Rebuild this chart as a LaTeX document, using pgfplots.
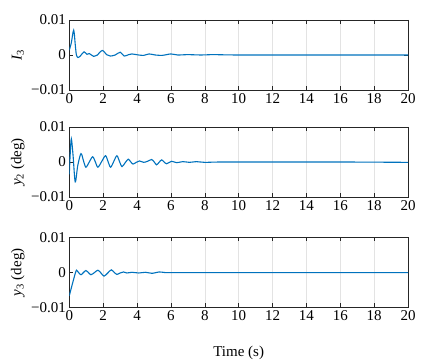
\documentclass[border=0pt]{standalone}
\usepackage{fontspec}
\setmainfont{Liberation Serif}
\usepackage{pgfplots}
\pgfplotsset{compat=1.18}
\definecolor{mblue}{RGB}{0,114,189}
\definecolor{axgray}{RGB}{38,38,38}
\pgfplotsset{
  panel/.style={
    scale only axis,
    width=338.7pt, height=70pt,
    xmin=0, xmax=20, ymin=-0.01, ymax=0.01,
    xtick={0,2,...,20},
    ytick={-0.01,0,0.01},
    yticklabels={−0.01,0,0.01},
    scaled y ticks=false,
    /pgf/number format/assume math mode=true,
    tick align=inside,
    major tick length=4pt,
    axis line style={axgray, line width=0.6pt},
    every tick/.style={axgray, line width=0.5pt},
    xmajorgrids,
    major grid style={gray!22, line width=0.5pt},
    tick label style={font=\fontsize{15}{17}\selectfont, text=black},
    label style={font=\fontsize{15}{17}\selectfont},
    ylabel style={at={(axis description cs:-0.152,0.5)}, rotate=0, anchor=center},
    anchor=south west,
  },
  curve/.style={mblue, line width=1.1pt, smooth, tension=0.5, no markers},
}
\begin{document}
\begin{tikzpicture}
\useasboundingbox (0,0) rectangle (428pt,363pt);
% Panel 1
\begin{axis}[panel, at={(69.3pt,273pt)}, ylabel={\textit{I}\textsubscript{3}}]
\addplot[curve] coordinates {
(0,0.0014) (0.12,0.0035) (0.26,0.0071) (0.36,0.0025) (0.42,0.0000) (0.51,-0.0007)
(0.65,-0.0003) (0.87,0.0009) (1.04,0.0002) (1.18,0.0004) (1.44,-0.0004) (1.63,-0.0001)
(1.95,0.0013) (2.2,0.0001) (2.42,-0.0003) (2.71,0.0000) (3.01,0.0008) (3.24,-0.0003)
(3.5,0.0001) (3.7,0.0003) (4.09,0.0000) (4.4,-0.0001) (4.72,0.0003) (5.07,0.0000)
(5.5,-0.0001) (6.0,0.0003) (6.4,0.0000) (7.0,0.0001) (7.8,0.0000) (8.5,0.0001) (10,0.0000)
(14,0.0000) (20,0.0000)
};
\end{axis}
% Panel 2
\begin{axis}[panel, at={(69.3pt,166pt)}, ylabel={\textit{y}\textsubscript{2} (deg)}]
\addplot[curve] coordinates {
(0,-0.0035) (0.05,0.002) (0.12,0.0066) (0.22,0.002) (0.35,-0.0057) (0.5,-0.001)
(0.69,0.0024) (0.84,0.0003) (0.98,-0.0015) (1.18,0.0000) (1.38,0.0015) (1.54,0.0000)
(1.69,-0.0015) (1.92,0.0002) (2.14,0.0018) (2.29,0.0001) (2.44,-0.0015) (2.63,0.0002)
(2.81,0.0018) (2.96,0.0002) (3.11,-0.0013) (3.3,-0.0002) (3.48,0.0008) (3.62,0.0001)
(3.76,-0.0006) (3.95,-0.0001) (4.15,0.0003) (4.39,-0.0001) (4.62,0.0002) (4.86,0.0007)
(5.0,0.0001) (5.15,-0.0008) (5.3,-0.0001) (5.45,0.0006) (5.6,0.0000) (5.75,-0.0005)
(6.04,0.0002) (6.34,-0.0002) (6.7,0.0001) (7.1,-0.0001) (7.5,0.0001) (8,-0.0001)
(9,0.0000) (12,0.0000) (16,0.0000) (20,-0.0001)
};
\end{axis}
% Panel 3
\begin{axis}[panel, at={(69.3pt,55.7pt)}, ylabel={\textit{y}\textsubscript{3} (deg)},
  xlabel={Time (s)}, xlabel style={at={(axis description cs:0.5,-0.65)}, anchor=center}]
\addplot[curve] coordinates {
(0,-0.0067) (0.2,-0.003) (0.39,0.0003) (0.45,0.0005) (0.57,-0.0002) (0.69,-0.0007)
(0.83,-0.0001) (0.98,0.0005) (1.13,-0.0001) (1.28,-0.0007) (1.48,-0.0001) (1.69,0.0006)
(1.87,-0.0002) (2.05,-0.0011) (2.27,-0.0002) (2.48,0.0007) (2.65,0.0000) (2.81,-0.0006)
(3.0,-0.0002) (3.2,0.0001) (3.4,-0.0002) (3.7,0.0000) (4.1,-0.0002) (4.5,0.0000)
(4.9,-0.0003) (5.3,0.0001) (5.7,-0.0001) (6.2,-0.0001) (8,-0.0001) (12,-0.0001) (20,-0.0001)
};
\end{axis}
\end{tikzpicture}
\end{document}
